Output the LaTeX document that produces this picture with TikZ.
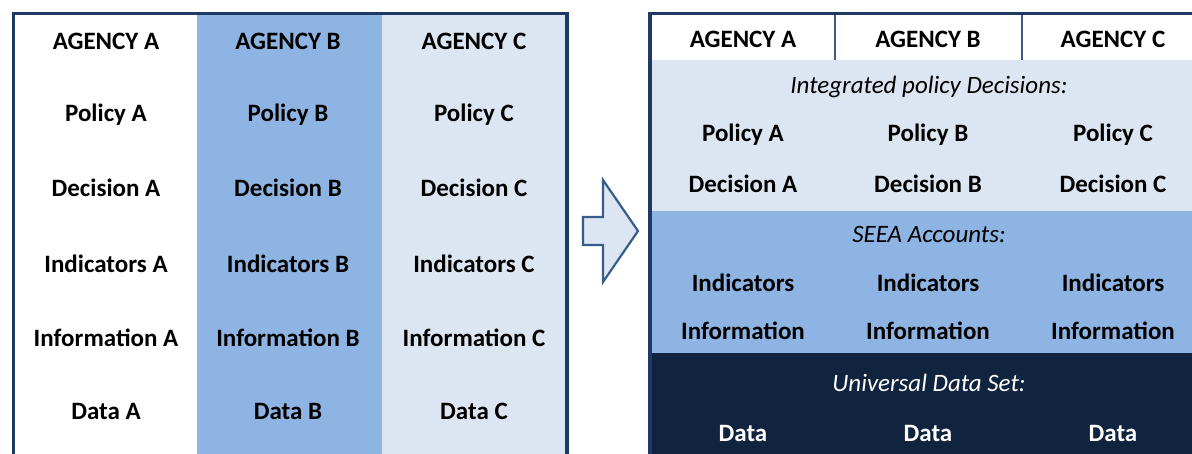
\documentclass[tikz,border=0pt]{standalone}
\usepackage{fontspec}
\setmainfont{Carlito}
\usetikzlibrary{positioning}

\definecolor{navy}{HTML}{1F3864}
\definecolor{darknavy}{HTML}{10243F}
\definecolor{midblue}{HTML}{8EB4E3}
\definecolor{paleblue}{HTML}{DCE6F2}
\definecolor{edgeblue}{HTML}{385D8A}

\tikzset{
  cell/.style={font=\fontsize{25}{30}\selectfont\bfseries, inner sep=0pt},
  caption/.style={font=\fontsize{25}{30}\selectfont\itshape, inner sep=0pt},
  frame/.style={navy, line width=3.5pt},
}

\begin{document}
\begin{tikzpicture}[x=1pt,y=-1pt]
\useasboundingbox (0,0) rectangle (1192,454);

%left: one column per agency
\fill[white] (14,14) rectangle (197,454);
\fill[midblue] (197,14) rectangle (382,454);
\fill[paleblue] (382,14) rectangle (567,454);
\draw[frame] (13.5,454) -- (13.5,13.5) -- (567,13.5) -- (567,454);

\foreach \col/\x/\n in {A/106/a,B/288/b,C/474/c} {
  \node[cell] (agency\n) at (\x,41) {AGENCY \col};
  \node[cell] (policy\n) at (\x,115) {Policy \col};
  \node[cell] (decision\n) at (\x,188) {Decision \col};
  \node[cell] (indicators\n) at (\x,264) {Indicators \col};
  \node[cell] (information\n) at (\x,338) {Information \col};
  \node[cell] (data\n) at (\x,411) {Data \col};
}

%block arrow
\draw[edgeblue, fill=paleblue, line width=2.2pt, line join=miter]
  (583,217) -- (603,217) -- (603,180) -- (638,231) -- (603,282) -- (603,245) -- (583,245) -- cycle;

%right: integrated layers
\fill[white] (650,14) rectangle (1192,60);
\fill[paleblue] (650,60) rectangle (1192,211);
\fill[midblue] (650,211) rectangle (1192,353);
\fill[darknavy] (650,353) rectangle (1192,454);
\draw[edgeblue, line width=2pt] (835,14) -- (835,60);
\draw[edgeblue, line width=2pt] (1022,14) -- (1022,60);
\draw[frame] (650,454) -- (650,13.5) -- (1192,13.5);

\node[caption] (decisions) at (929,87) {Integrated policy Decisions:};
\node[caption] (seea) at (929,234) {SEEA Accounts:};
\node[caption, white] (universal) at (929,383) {Universal Data Set:};

\foreach \col/\x/\n in {A/743/a,B/928/b,C/1113/c} {
  \node[cell] (ragency\n) at (\x,39) {AGENCY \col};
  \node[cell] (rpolicy\n) at (\x,135) {Policy \col};
  \node[cell] (rdecision\n) at (\x,184) {Decision \col};
  \node[cell] (rindicators\n) at (\x,283) {Indicators};
  \node[cell] (rinformation\n) at (\x,331) {Information};
  \node[cell, white] (rdata\n) at (\x,433) {Data};
}
\end{tikzpicture}
\end{document}
